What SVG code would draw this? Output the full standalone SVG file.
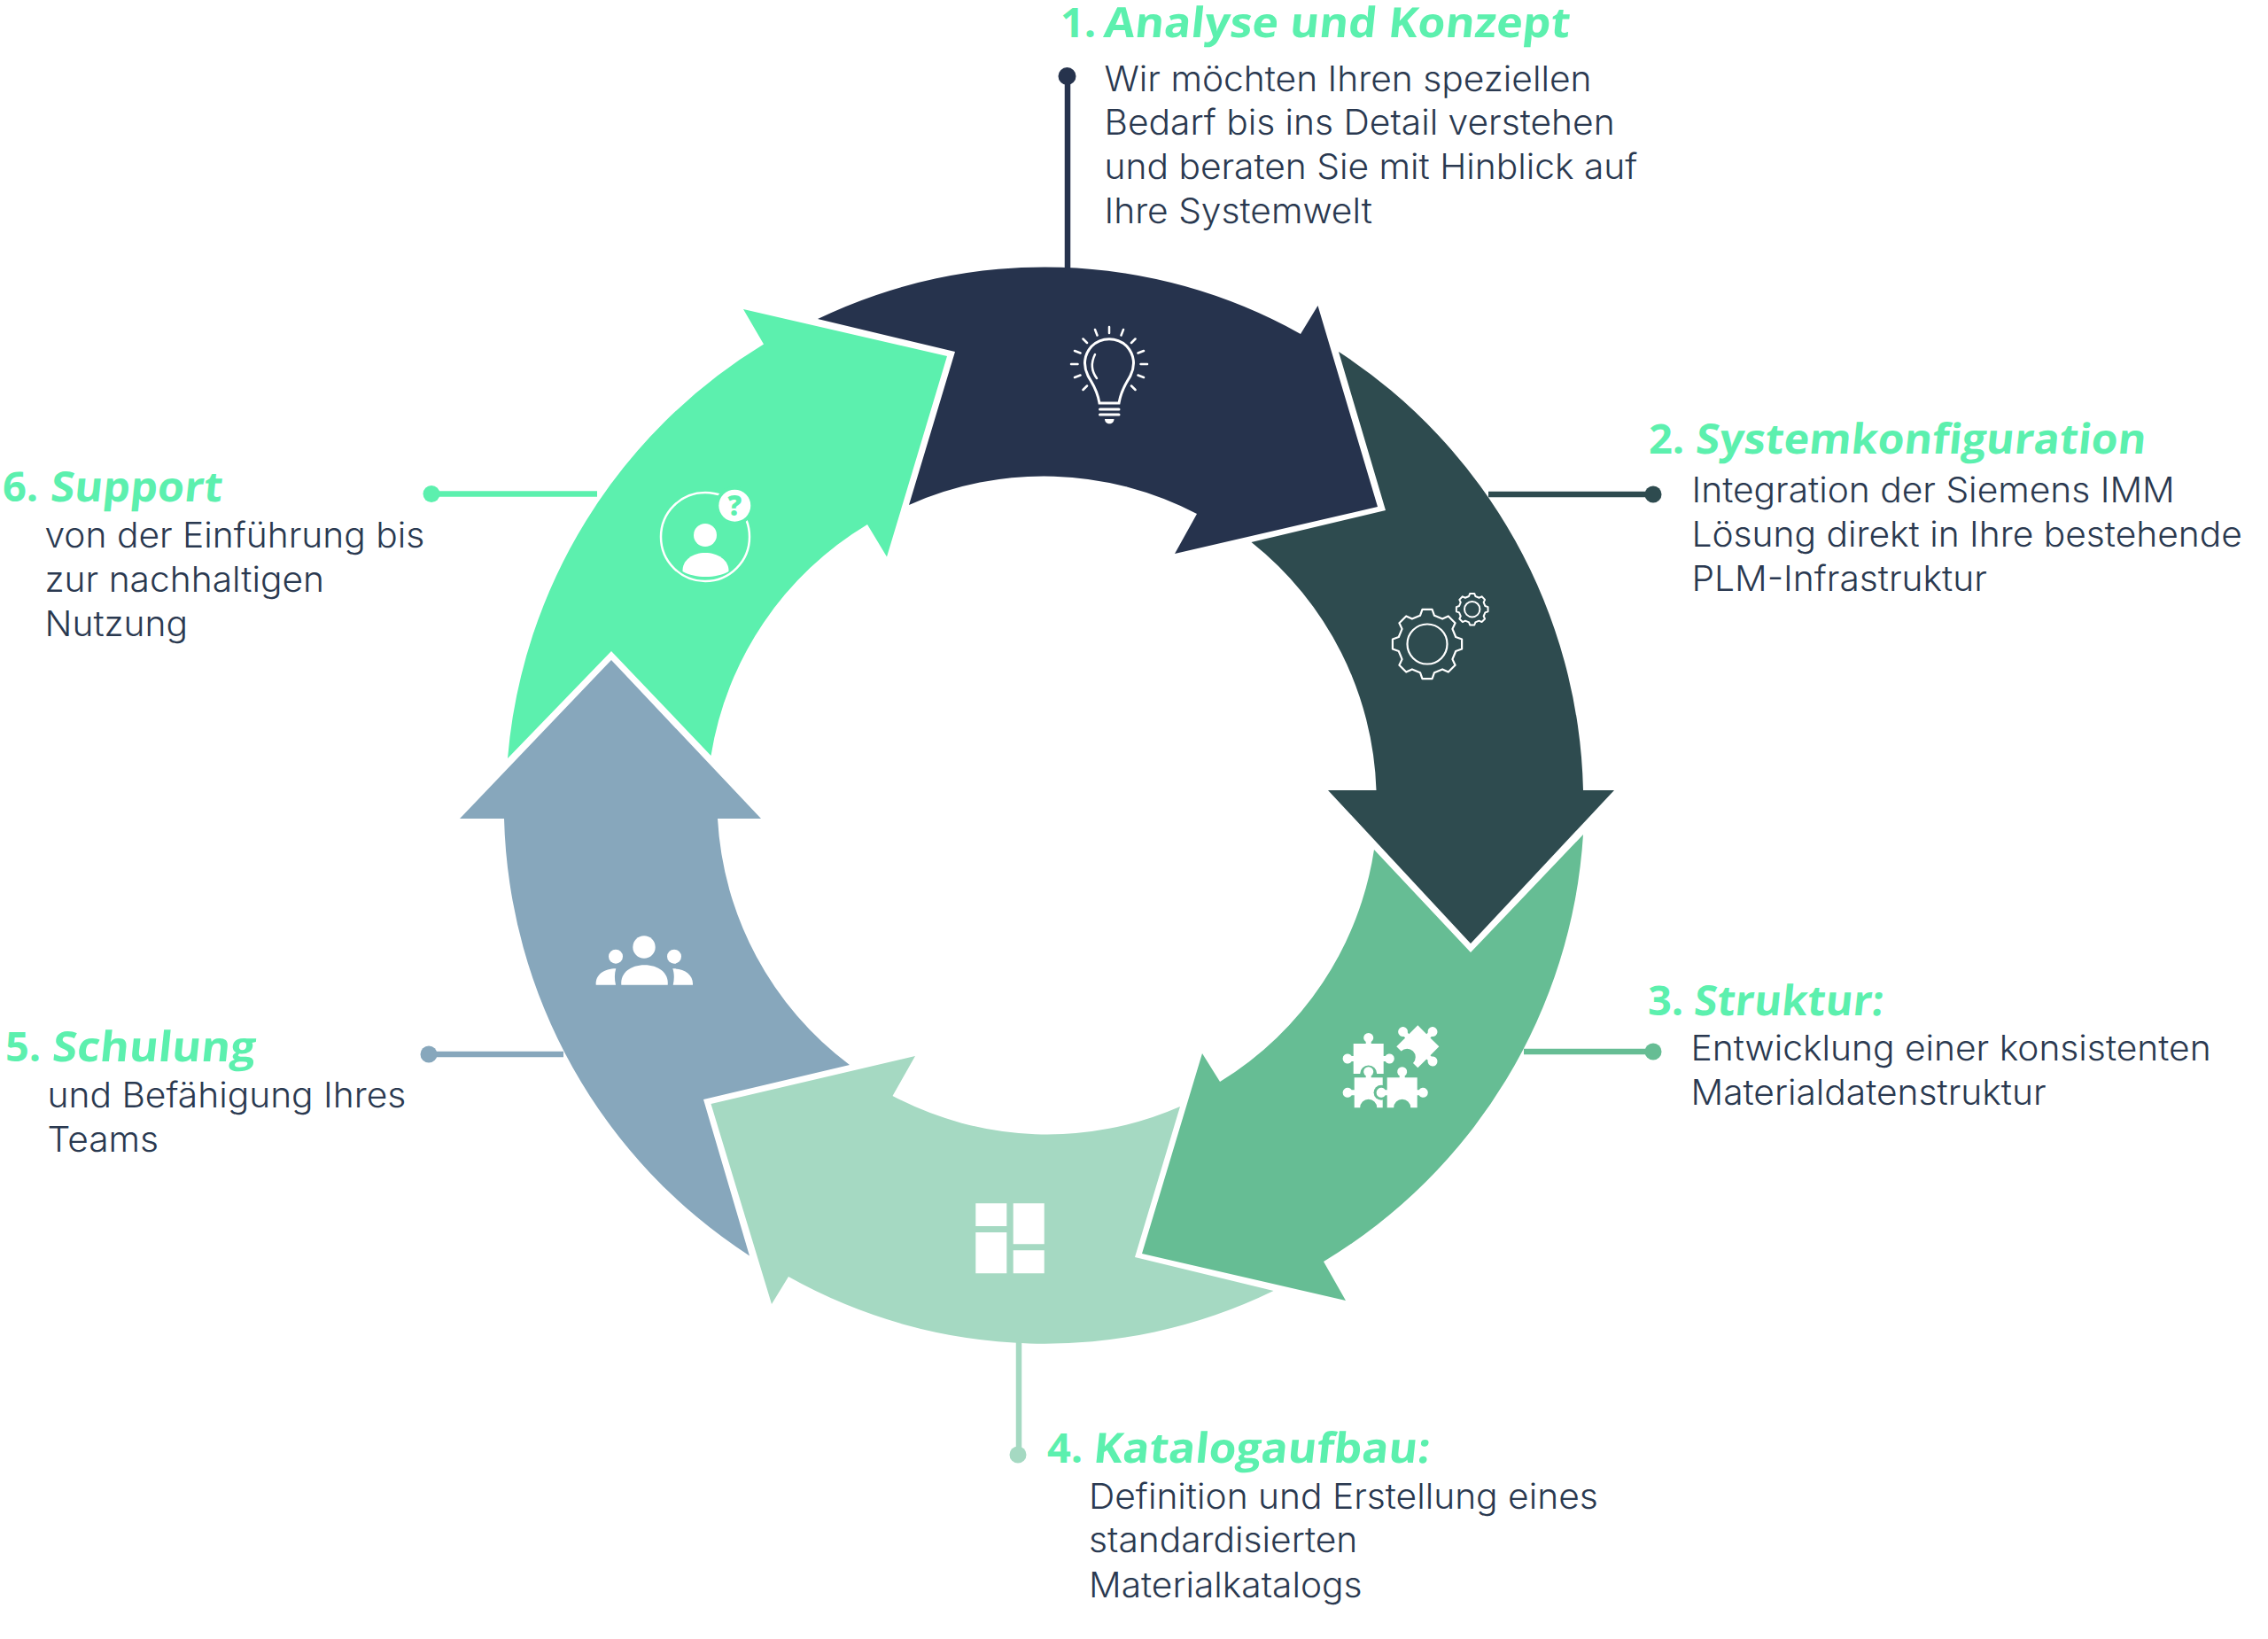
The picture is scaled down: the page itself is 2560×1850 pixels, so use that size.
<svg xmlns="http://www.w3.org/2000/svg" width="2560" height="1850" viewBox="0 0 2560 1850">
<style>
.b{font-family:Inter,"Liberation Sans",sans-serif;font-weight:300;font-size:39px;fill:#2a3950}
.h{font-family:"Open Sans","Liberation Sans",sans-serif;font-weight:700;font-size:47px;fill:#5cf0ae}
.w{fill:#fff}
.c{fill:none;stroke-width:6.500}
</style>
<defs>
<path id="gear" vector-effect="non-scaling-stroke" d="M99 14L81.500 20.300 72 43.300 79.900 60.200 60.200 79.900 43.300 72 20.300 81.500 14 99-14 99-20.300 81.500-43.300 72-60.200 79.900-79.900 60.200-72 43.300-81.500 20.300-99 14-99-14-81.500-20.300-72-43.300-79.900-60.200-60.200-79.900-43.300-72-20.300-81.500-14-99 14-99 20.300-81.500 43.300-72 60.200-79.900 79.900-60.200 72-43.300 81.500-20.300 99-14Z"/>
<path id="piece" d="M-17-17H-3V-19A5.500 5.500 0 1 1 3-19V-17H17V-3H19A5.500 5.500 0 1 1 19 3H17V17H9.500A9.500 9.500 0 0 0-9.500 17H-17V3H-19A5.500 5.500 0 1 1-19-3H-17Z"/>
</defs>
<rect width="2560" height="1850" fill="#fff"/>
<g id="connectors">
<g fill="#26334d"><path class="c" stroke="#26334d" d="M1205 86V304"/><circle cx="1204.500" cy="86" r="10"/></g>
<g fill="#2e4b4f"><path class="c" stroke="#2e4b4f" d="M1680 558H1866"/><circle cx="1866" cy="558" r="9.500"/></g>
<g fill="#66bd94"><path class="c" stroke="#66bd94" d="M1720 1187H1866"/><circle cx="1866" cy="1187" r="9.500"/></g>
<g fill="#a5d9c2"><path class="c" stroke="#a5d9c2" d="M1150 1515V1642"/><circle cx="1149" cy="1642" r="9.500"/></g>
<g fill="#87a7bc"><path class="c" stroke="#87a7bc" d="M484 1190H636"/><circle cx="484" cy="1190" r="9.500"/></g>
<g fill="#5cf0ae"><path class="c" stroke="#5cf0ae" d="M487 557.500H674"/><circle cx="487" cy="557.500" r="9.500"/></g>
</g>
<g id="node1">
<path fill="#26334d" d="M923 360A590 590 0 0 1 1468 377L1487.500 345 1555 572 1326 625 1351 580A373 373 0 0 0 1026 570L1078 397Z"/>
<g stroke-width="3" stroke-linecap="round" fill="none" stroke="#fff">
<path d="M1241 455C1238 438 1232 432 1228 424C1222 412 1224 400 1232 391C1243 380 1261 380 1272 391C1280 400 1282 412 1276 424C1272 432 1266 438 1263 455H1241Z"/>
<path d="M1236 400C1231 410 1232 419 1238 427" stroke-width="2.500"/>
<path stroke-width="2.500" d="M1252 369V376M1236 372L1238.500 378.500M1268 372L1265.500 378.500M1222.500 382.500L1227 387M1281.500 382.500L1277 387M1213 396L1219.500 398.500M1291 396L1284.500 398.500M1209 411H1216.500M1295 411H1287.500M1213 426L1219.500 423.500M1291 426L1284.500 423.500M1222.500 440L1227 435.500M1281.500 440L1277 435.500"/>
<path d="M1241.500 462H1263M1241.500 468H1263"/>
</g>
<path class="w" d="M1247 473H1257.500C1257.500 480 1247 480 1247 473Z"/>
</g>
<g id="node2">
<path fill="#2e4b4f" d="M1511 397A607 607 0 0 1 1787 892H1822L1660 1065 1499 892H1553.500A373 373 0 0 0 1412.500 612L1564 576Z"/>
<use href="#gear" transform="translate(1611 727) scale(.395)" fill="none" stroke="#fff" stroke-width="2.200" stroke-linejoin="round"/>
<circle cx="1611" cy="727" r="22.500" fill="none" stroke="#fff" stroke-width="2.200"/>
<use href="#gear" transform="translate(1661.700 687.700) scale(.18)" fill="none" stroke="#fff" stroke-width="2" stroke-linejoin="round"/>
<circle cx="1661.700" cy="687.700" r="8.700" fill="none" stroke="#fff" stroke-width="2"/>
</g>
<g id="node3">
<path fill="#66bd94" d="M1551 959L1660 1075 1787 942A607 607 0 0 1 1494 1424L1519 1468 1289 1415 1357 1189 1377 1221A373 373 0 0 0 1551 959Z"/>
<use href="#piece" class="w" transform="translate(1544.700 1195)"/>
<use href="#piece" class="w" transform="translate(1600.300 1181.300) rotate(45)"/>
<path class="w" transform="translate(1544.700 1233.300)" d="M-16-17H-3V-19A5.500 5.500 0 1 1 3-19V-17H16V17H9.500A9.500 9.500 0 0 0-9.500 17H-16V3H-19A5.500 5.500 0 1 1-19-3H-16Z"/>
<circle cx="1559.100" cy="1233.300" r="8.500" fill="#66bd94"/>
<use href="#piece" class="w" transform="translate(1582.700 1233.300)"/>
</g>
<g id="node4">
<path fill="#a5d9c2" d="M1332 1249L1281 1419 1437.500 1457A590 590 0 0 1 890 1441L871 1472 802.500 1246 1033 1192 1007.500 1237A373 373 0 0 0 1332 1249Z"/>
<path class="w" d="M1101.300 1358.300H1136.300V1384H1101.300ZM1101.300 1391H1136.300V1437.300H1101.300ZM1143.700 1358.300H1178.700V1404.300H1143.700ZM1143.700 1411.300H1178.700V1437.300H1143.700Z"/>
</g>
<g id="node5">
<path fill="#87a7bc" d="M846 1417.500A607 607 0 0 1 569 924H519L690 745 859 924H810A373 373 0 0 0 959 1202L794 1241Z"/>
<circle class="w" cx="727" cy="1069" r="12.700"/>
<circle class="w" cx="695" cy="1079.700" r="8"/>
<circle class="w" cx="761" cy="1079.700" r="8"/>
<path class="w" d="M701.300 1111.700C700 1098 712 1089.300 727.500 1089.300C743 1089.300 755 1098 753.700 1111.700Z"/>
<path class="w" d="M672.700 1111.700C672 1100 682 1093.300 695.300 1093.300C693.500 1099 693.500 1105 695 1111.700Z"/>
<path class="w" d="M782 1111.700C782.700 1100 772.700 1093.300 759.300 1093.300C761.200 1099 761.200 1105 759.700 1111.700Z"/>
</g>
<g id="node6">
<path fill="#5cf0ae" d="M573 856A607 607 0 0 1 862 388.500L839 349 1069 402 1001 628.500 979 592A373 373 0 0 0 802.500 853L690 735Z"/>
<circle cx="796" cy="606" r="50" fill="none" stroke="#fff" stroke-width="2.500"/>
<circle cx="829.300" cy="570.700" r="22" fill="#5cf0ae"/>
<circle class="w" cx="829.300" cy="570.700" r="18"/>
<text x="829.300" y="582" text-anchor="middle" font-family="'Open Sans',sans-serif" font-weight="800" font-size="31" fill="#5cf0ae">?</text>
<circle class="w" cx="796" cy="604" r="13"/>
<path class="w" d="M770.500 645C770 632 782 624 796 624C810 624 823 632 822.500 645C808 653 785 653 770.500 645Z"/>
</g>
<g id="text1">
<text class="h" x="1197" y="42">1.</text><text class="h" transform="translate(1245 42) skewX(-6)" textLength="526" lengthAdjust="spacingAndGlyphs">Analyse und Konzept</text>
<g transform="translate(1246.500 0) scale(1.044 1)">
<text class="b" y="103">Wir möchten Ihren speziellen</text>
<text class="b" y="152.500">Bedarf bis ins Detail verstehen</text>
<text class="b" y="202">und beraten Sie mit Hinblick auf</text>
<text class="b" y="252">Ihre Systemwelt</text>
</g>
</g>
<g id="text2">
<text class="h" x="1861" y="512">2.</text><text class="h" transform="translate(1913 512) skewX(-6)" textLength="508" lengthAdjust="spacingAndGlyphs">Systemkonfiguration</text>
<g transform="translate(1909.500 0) scale(1.044 1)">
<text class="b" y="567.500">Integration der Siemens IMM</text>
<text class="b" y="617.500">Lösung direkt in Ihre bestehende</text>
<text class="b" y="667">PLM-Infrastruktur</text>
</g>
</g>
<g id="text3">
<text class="h" x="1860" y="1146">3.</text><text class="h" transform="translate(1911 1146) skewX(-6)" textLength="214" lengthAdjust="spacingAndGlyphs">Struktur:</text>
<g transform="translate(1908.500 0) scale(1.044 1)">
<text class="b" y="1197.500">Entwicklung einer konsistenten</text>
<text class="b" y="1247.500">Materialdatenstruktur</text>
</g>
</g>
<g id="text4">
<text class="h" x="1182" y="1650.500">4.</text><text class="h" transform="translate(1233 1650.500) skewX(-6)" textLength="380" lengthAdjust="spacingAndGlyphs">Katalogaufbau:</text>
<g transform="translate(1229 0) scale(1.044 1)">
<text class="b" y="1703">Definition und Erstellung eines</text>
<text class="b" y="1752">standardisierten</text>
<text class="b" y="1803">Materialkatalogs</text>
</g>
</g>
<g id="text5">
<text class="h" x="6" y="1198">5.</text><text class="h" transform="translate(58 1198) skewX(-6)" textLength="229" lengthAdjust="spacingAndGlyphs">Schulung</text>
<g transform="translate(53.500 0) scale(1.044 1)">
<text class="b" y="1250.500">und Befähigung Ihres</text>
<text class="b" y="1300.500">Teams</text>
</g>
</g>
<g id="text6">
<text class="h" x="3" y="566">6.</text><text class="h" transform="translate(56 566) skewX(-6)" textLength="194" lengthAdjust="spacingAndGlyphs">Support</text>
<g transform="translate(50.500 0) scale(1.044 1)">
<text class="b" y="618.500">von der Einführung bis</text>
<text class="b" y="668">zur nachhaltigen</text>
<text class="b" y="718">Nutzung</text>
</g>
</g>
</svg>
